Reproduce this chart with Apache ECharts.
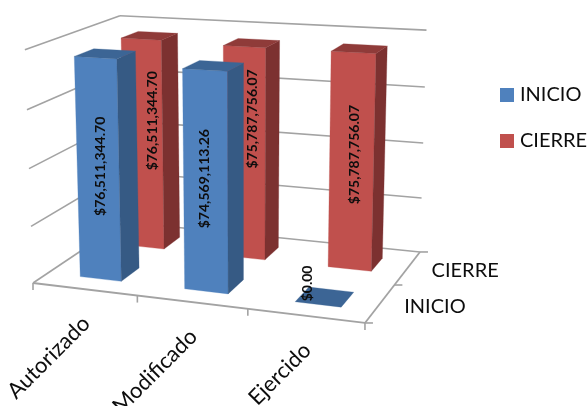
<!DOCTYPE html>
<html>
<head>
<meta charset="utf-8">
<style>html,body{margin:0;padding:0;background:#fff}#c{width:588px;height:406px}</style>
<script src="https://cdn.jsdelivr.net/npm/echarts@6/dist/echarts.min.js"></script>
</head>
<body>
<div id="c"></div>
<script>
var categories = ['Autorizado', 'Modificado', 'Ejercido'];
var seriesNames = ['INICIO', 'CIERRE'];
var inicioValues = [76511344.70, 74569113.26, 0];
var cierreValues = [76511344.70, 75787756.07, 75787756.07];
var valueTicks = [0, 20000000, 40000000, 60000000, 80000000];

// perspective camera of the 3D plot: s along categories, t along series, h along value (0..1)
function proj(s, t, h) {
  var w = -0.0829 * s + 0.137 * t + 1 - 0.0373 * h;
  return [
    (301.7 * s + 108 * t + 33 - 9.06 * h) / w,
    (13.2 * s - 30.6 * t + 283 - 235 * h) / w
  ];
}
var BAR = 0.4, DEPTH = 0.4, BAR_SHIFT = 0.006;
var palette = [
  { front: '#4f81bd', side: '#365a84', top: '#3c6595' },
  { front: '#c0504d', side: '#7c3130', top: '#8f3b39' }
];
// where the data label sits relative to the middle of the bar's front face
var labelNudge = [
  [[2, -4], [-1, -4], [-11, -21]],
  [[10, -24], [8, -35], [3, -8]]
];
var LINE = '#a3a3a3';

function norm(params, api, cat, val) {
  var cs = params.coordSys;
  var c = api.coord([cat, val]);
  return { s: (c[0] - cs.x) / cs.width, h: (cs.y + cs.height - c[1]) / cs.height,
           bw: api.size([1, 0])[0] / cs.width };
}
function poly(pts, fill) {
  return { type: 'polygon', shape: { points: pts }, style: { fill: fill, stroke: fill, lineWidth: 0.3 } };
}
function line(a, b, w) {
  return { type: 'line', shape: { x1: a[0], y1: a[1], x2: b[0], y2: b[1] },
           style: { stroke: LINE, lineWidth: w || 1.6, fill: null } };
}
function barRenderer(idx) {
  return function (params, api) {
    var cat = api.value(0), val = api.value(1);
    var n = norm(params, api, cat, val);
    var sL = n.s + BAR_SHIFT - n.bw * BAR / 2, sR = n.s + BAR_SHIFT + n.bw * BAR / 2;
    var zc = (idx + 0.5) / seriesNames.length, d = DEPTH / seriesNames.length;
    var tF = zc - d / 2, tB = zc + d / 2, h = n.h;
    var col = palette[idx], kids = [];
    if (h > 0) {
      kids.push(poly([proj(sL, tF, 0), proj(sR, tF, 0), proj(sR, tF, h), proj(sL, tF, h)], col.front));
      kids.push(poly([proj(sR, tF, 0), proj(sR, tB, 0), proj(sR, tB, h), proj(sR, tF, h)], col.side));
    }
    kids.push(poly([proj(sL, tF, h), proj(sR, tF, h), proj(sR, tB, h), proj(sL, tB, h)], col.top));
    var mid = proj(n.s + BAR_SHIFT, tF, h / 2), nudge = labelNudge[idx][cat];
    var txt = '$' + val.toLocaleString('en-US', { minimumFractionDigits: 2, maximumFractionDigits: 2 });
    kids.push({ type: 'text', x: mid[0] + nudge[0], y: mid[1] + nudge[1], rotation: Math.PI / 2, z2: 10,
      style: { text: txt, fill: '#0d0d0d', font: 'bold 14px Lato', align: 'center', verticalAlign: 'middle' } });
    return { type: 'group', children: kids };
  };
}
function frameRenderer(params, api) {
  var kids = [];
  valueTicks.forEach(function (v) {
    var h = norm(params, api, 0, v).h;
    kids.push(line(proj(0, 0, h), proj(0, 1, h)));
    kids.push(line(proj(0, 1, h), proj(1, 1, h)));
  });
  kids.push(line(proj(0, 0, 0), proj(1, 0, 0), 1.8));
  kids.push(line(proj(1, 0, 0), proj(1, 1, 0), 1.8));
  for (var i = 0; i <= categories.length; i++) {
    var p = proj(i / categories.length, 0, 0);
    kids.push(line(p, [p[0], p[1] + 7]));
  }
  for (var j = 0; j <= seriesNames.length; j++) {
    var q = proj(1, j / seriesNames.length, 0);
    kids.push(line(q, [q[0] + 8, q[1]]));
  }
  // category labels, turned 45 degrees
  categories.forEach(function (name, k) {
    var b = proj((k + 0.5) / categories.length, 0, 0);
    kids.push({ type: 'text', x: b[0] - 6, y: b[1] + 23, rotation: Math.PI / 4,
      style: { text: name, fill: '#0d0d0d', font: '22px Lato', align: 'right', verticalAlign: 'top' } });
  });
  // series labels along the depth axis
  seriesNames.forEach(function (name, k) {
    var b = proj(1, (k + 0.5) / seriesNames.length, 0);
    kids.push({ type: 'text', x: b[0] + 24, y: b[1] + 3,
      style: { text: name, fill: '#0d0d0d', font: '20px Lato', align: 'left', verticalAlign: 'middle' } });
  });
  return { type: 'group', children: kids };
}
function rows(values) { return values.map(function (v, i) { return [i, v]; }); }

var chart = echarts.init(document.getElementById('c'), null, { renderer: 'canvas' });
chart.setOption({
  animation: false,
  backgroundColor: '#fff',
  grid: { left: 0, right: 0, top: 0, bottom: 0 },
  xAxis: { type: 'category', data: categories, show: false },
  yAxis: { type: 'value', min: 0, max: 80000000, interval: 20000000, show: false },
  legend: {
    data: seriesNames, orient: 'vertical', left: 500, top: 85, itemWidth: 14, itemHeight: 14,
    itemGap: 26, icon: 'rect', padding: 0,
    textStyle: { fontFamily: 'Lato', fontSize: 20, color: '#0d0d0d', padding: [0, 0, 0, 1] }
  },
  series: [
    { type: 'custom', name: 'ejes', z: 1, silent: true, data: [[0, 0]], renderItem: frameRenderer,
      encode: { x: 0, y: 1 }, clip: false },
    { type: 'custom', name: seriesNames[0], z: 3, data: rows(inicioValues), renderItem: barRenderer(0),
      itemStyle: { color: palette[0].front }, encode: { x: 0, y: 1 }, clip: false },
    { type: 'custom', name: seriesNames[1], z: 2, data: rows(cierreValues), renderItem: barRenderer(1),
      itemStyle: { color: palette[1].front }, encode: { x: 0, y: 1 }, clip: false }
  ]
});
</script>
</body>
</html>
